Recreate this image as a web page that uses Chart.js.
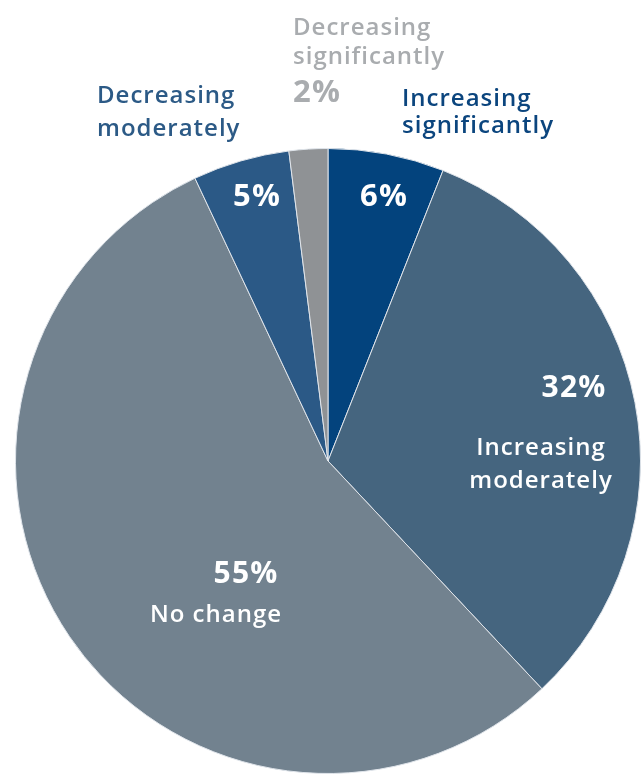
<!DOCTYPE html>
<html>
<head>
<meta charset="utf-8">
<script src="https://cdn.jsdelivr.net/npm/chart.js@4/dist/chart.umd.min.js"></script>
<style>
  html, body { margin: 0; padding: 0; background: #ffffff; }
  #wrap { width: 641px; height: 776px; }
</style>
</head>
<body>
<div id="wrap"><canvas id="pie" width="641" height="776"></canvas></div>
<script>
// Survey answers, clockwise from 12 o'clock
const categories = [
  'Increasing significantly',
  'Increasing moderately',
  'No change',
  'Decreasing moderately',
  'Decreasing significantly'
];
const shares = [6, 32, 55, 5, 2];
const sliceColors = ['#03437d', '#45657f', '#72828f', '#2b5986', '#8f9295'];

// Label placement for each slice: caption lines plus where the caption and the value go
const labelLayout = [
  { lines: ['Increasing', 'significantly'], x: 402, y: 106, lh: 27, align: 'left', color: '#0b457e',
    pct: { x: 384, y: 206, size: 31, color: '#ffffff' } },
  { lines: ['Increasing', 'moderately'], x: 541, y: 455, lh: 33, align: 'center', color: '#ffffff',
    pct: { x: 574, y: 397, size: 30, color: '#ffffff' } },
  { lines: ['No change'], x: 216, y: 622, lh: 33, align: 'center', color: '#ffffff',
    pct: { x: 246, y: 583, size: 30, color: '#ffffff' } },
  { lines: ['Decreasing', 'moderately'], x: 97, y: 103, lh: 33, align: 'left', color: '#2c5a86',
    pct: { x: 257, y: 206, size: 31, color: '#ffffff' } },
  { lines: ['Decreasing', 'significantly'], x: 293, y: 35, lh: 29, align: 'left', color: '#a9acaf',
    pct: { x: 293, y: 102, size: 31, color: '#a9acaf', align: 'left' } }
];

const FONT = '"Open Sans", "DejaVu Sans", sans-serif';

const sliceLabels = {
  id: 'sliceLabels',
  afterDatasetsDraw(chart) {
    const ctx = chart.ctx;
    const values = chart.data.datasets[0].data;
    ctx.save();
    ctx.textBaseline = 'alphabetic';
    labelLayout.forEach((l, i) => {
      ctx.fillStyle = l.color;
      ctx.textAlign = l.align;
      ctx.font = '600 24px ' + FONT;
      ctx.letterSpacing = '1px';
      l.lines.forEach((t, k) => ctx.fillText(t, l.x, l.y + k * l.lh));
      const p = l.pct;
      ctx.fillStyle = p.color;
      ctx.textAlign = p.align || 'center';
      ctx.font = '700 ' + p.size + 'px ' + FONT;
      ctx.letterSpacing = '1.2px';
      ctx.fillText(values[i] + '%', p.x, p.y);
    });
    ctx.restore();
  }
};

new Chart(document.getElementById('pie'), {
  type: 'pie',
  data: {
    labels: categories,
    datasets: [{
      data: shares,
      backgroundColor: sliceColors,
      borderColor: '#dfe4ea',
      borderWidth: 1
    }]
  },
  options: {
    responsive: false,
    animation: false,
    layout: { padding: { left: 15, right: 0, top: 148, bottom: 2 } },
    plugins: {
      legend: { display: false },
      tooltip: { enabled: false }
    }
  },
  plugins: [sliceLabels]
});
</script>
</body>
</html>
